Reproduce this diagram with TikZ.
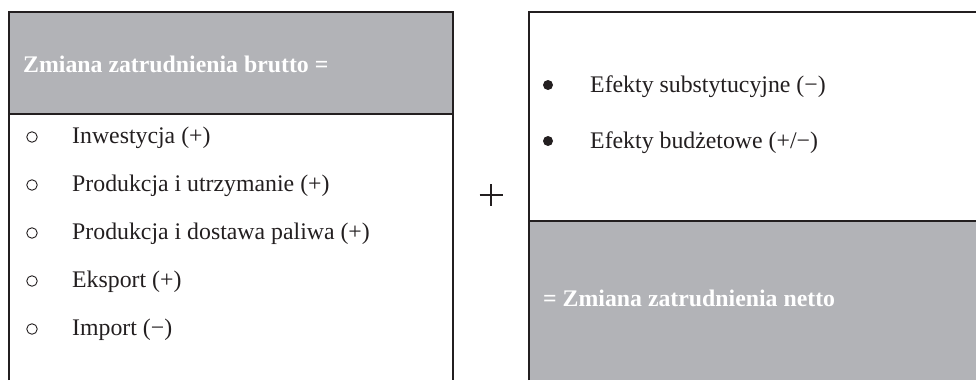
\documentclass[tikz,border=0pt]{standalone}
\usepackage{fontspec}
\setmainfont{Liberation Serif}
\definecolor{boxgray}{RGB}{178,179,183}
\definecolor{linedark}{RGB}{35,31,32}
\begin{document}
\begin{tikzpicture}[x=1pt,y=-1pt,
  frame/.style={draw=linedark,line width=2pt},
  txt/.style={anchor=base west,inner sep=0pt,font=\fontsize{23.8}{28}\selectfont,text=linedark},
  head/.style={anchor=base west,inner sep=0pt,font=\fontsize{23.8}{28}\selectfont\bfseries,text=white},
  hollow/.style={circle,draw=linedark,line width=0.9pt,minimum size=10.5pt,inner sep=0pt},
  solid/.style={circle,fill=linedark,minimum size=10pt,inner sep=0pt}]
\useasboundingbox (0,0) rectangle (976,380);
% left box
\fill[boxgray] (9,12) rectangle (453,114);
\draw[frame] (9,380) -- (9,12) -- (453,12) -- (453,380);
\draw[frame] (9,114) -- (453,114);
% right box
\fill[boxgray] (529,221) rectangle (976,380);
\draw[frame] (529,380) -- (529,12) -- (977,12);
\draw[frame] (529,221) -- (977,221);
% left texts
\node[head] (t1) at (23,72) {Zmiana zatrudnienia brutto =};
\node[hollow] (c1) at (32,137) {};
\node[txt] (l1) at (72,143) {Inwestycja (+)};
\node[hollow] (c2) at (32,185) {};
\node[txt] (l2) at (72,191) {Produkcja i utrzymanie (+)};
\node[hollow] (c3) at (32,233) {};
\node[txt] (l3) at (72,239) {Produkcja i dostawa paliwa (+)};
\node[hollow] (c4) at (32,281) {};
\node[txt] (l4) at (72,287) {Eksport (+)};
\node[hollow] (c5) at (32,329) {};
\node[txt] (l5) at (72,335) {Import (−)};
% plus
\draw[linedark,line width=2pt] (479.5,195) -- (502.5,195) (491,184) -- (491,206);
% right texts
\node[solid] (b1) at (548,85) {};
\node[txt] (r1) at (590,92) {Efekty substytucyjne (−)};
\node[solid] (b2) at (548,141) {};
\node[txt] (r2) at (590,148) {Efekty budżetowe (+/−)};
\node[head] (t2) at (543,306) {= Zmiana zatrudnienia netto};
\end{tikzpicture}
\end{document}
